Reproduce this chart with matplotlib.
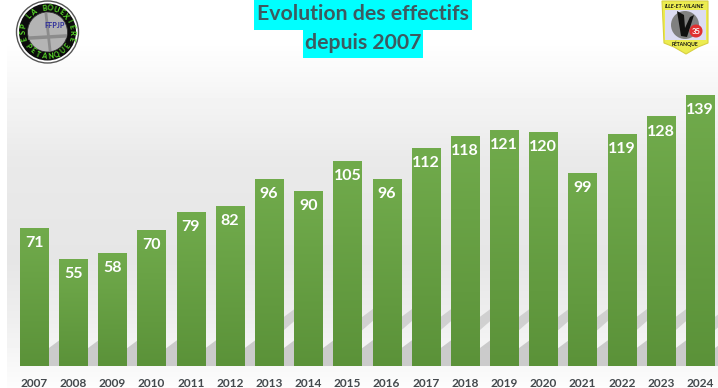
import matplotlib
matplotlib.use("Agg")
import matplotlib.pyplot as plt
from matplotlib.colors import LinearSegmentedColormap
from matplotlib.patches import Circle, Polygon, Rectangle, Wedge
import numpy as np

years = [2007, 2008, 2009, 2010, 2011, 2012, 2013, 2014, 2015,
         2016, 2017, 2018, 2019, 2020, 2021, 2022, 2023, 2024]
effectifs = [71, 55, 58, 70, 79, 82, 96, 90, 105,
             96, 112, 118, 121, 120, 99, 119, 128, 139]

W, H = 718, 388
plt.rcParams['font.family'] = ['Lato', 'DejaVu Sans']

fig = plt.figure(figsize=(W / 100, H / 100), dpi=100)

# page background, logos and title live in pixel coordinates
bg = fig.add_axes([0, 0, 1, 1])
bg.axis("off")
stops_y = [0, 40, 100, 160, 260, 320, 388]
stops_v = [1.0, 1.0, 0.955, 0.915, 0.90, 0.935, 0.99]
grad = np.interp(np.arange(H), stops_y, stops_v).reshape(-1, 1)
bg.imshow(grad, cmap="gray", vmin=0, vmax=1, extent=[7, W, H, 0], aspect="auto")
bg.set_xlim(0, W)
bg.set_ylim(H, 0)

# chart axes: 39.18 px per bar, 1.95 px per member, baseline at y=366
ax = fig.add_axes([0, 0, 1, 1])
ax.patch.set_alpha(0)
ax.axis("off")
x_step, y_step = 39.18, 1.95
xlim = (-34 / x_step, (W - 34) / x_step)
ylim = (-(H - 366) / y_step, 366 / y_step)
xs = np.arange(len(years))

# slanted shadows seen in the gaps between bars
for i, v in zip(xs, effectifs):
    ax.add_patch(Polygon([(i + 0.3, 0), (i + 0.7, 0), (i + 0.7, 14), (i + 0.3, 8)],
                         closed=True, fc="#bdbdbd", ec="none", alpha=0.75, zorder=1))
    if v > 90:
        ax.add_patch(Polygon([(i + 0.3, 17), (i + 0.7, 24), (i + 0.7, 30), (i + 0.3, 24)],
                             closed=True, fc="#c4c4c4", ec="none", alpha=0.7, zorder=1))

bar_grad = np.linspace(0, 1, 128).reshape(-1, 1)
cmap = LinearSegmentedColormap.from_list("vert", ["#71ab4c", "#5b9239"])
bars = ax.bar(xs, effectifs, width=0.72, color="#669f42", zorder=2)
for rect in bars:
    x0, w, v = rect.get_x(), rect.get_width(), rect.get_height()
    im = ax.imshow(bar_grad, cmap=cmap, extent=[x0, x0 + w, 0, v],
                   aspect="auto", zorder=3)
    im.set_clip_path(rect)

for i, v in zip(xs, effectifs):
    ax.text(i, v - 4.2, str(v), ha="center", va="top", color="white",
            fontsize=11.5, fontweight="bold", zorder=4)
    ax.text(i, -8.8, str(years[i]), ha="center", va="center",
            color="#44494d", fontsize=8.6, fontweight="bold", zorder=4)
ax.set_xlim(*xlim)
ax.set_ylim(*ylim)

# title
title_color = "#3d5a60"
bg.add_patch(Rectangle((254, 0), 218, 30, fc="#00ffff", ec="none", zorder=5))
bg.add_patch(Rectangle((303, 30), 120, 28, fc="#00ffff", ec="none", zorder=5))
bg.text(363, 14, "Evolution des effectifs", ha="center", va="center",
        color=title_color, fontsize=15.3, fontweight="bold", zorder=6)
bg.text(363, 43, "depuis 2007", ha="center", va="center",
        color=title_color, fontsize=15.3, fontweight="bold", zorder=6)

# left logo
cx, cy = 47.5, 32
bg.add_patch(Circle((cx, cy), 31, fc="white", ec="#555555", lw=1.0, zorder=5))
bg.add_patch(Circle((cx, cy), 28.5, fc="#0c0c0c", ec="none", zorder=5))
bg.add_patch(Circle((cx, cy), 20, fc="#b4b4b4", ec="#303030", lw=0.6, zorder=5))
bg.plot([30, 65], [38, 36], color="#8c8c8c", lw=2.5, zorder=5)
bg.plot([46, 50], [14, 50], color="#8c8c8c", lw=2, zorder=5)
bg.text(55, 26, "FFPJP", color="#2a2a9a", fontsize=5.2, fontweight="bold",
        ha="center", va="center", zorder=6)
top = "ESP LA BOUEXIERE"
for ch, ang in zip(top, np.linspace(165, 375, len(top))):
    a = np.radians(ang)
    bg.text(cx + 24.3 * np.cos(a), cy + 24.3 * np.sin(a), ch, color="#5be02a",
            fontsize=5.4, fontweight="bold", ha="center", va="center",
            rotation=-(ang + 90), rotation_mode="anchor", zorder=6)
low = "PETANQUE"
for ch, ang in zip(low, np.linspace(145, 35, len(low))):
    a = np.radians(ang)
    bg.text(cx + 24.3 * np.cos(a), cy + 24.3 * np.sin(a), ch, color="#5be02a",
            fontsize=5.0, fontweight="bold", ha="center", va="center",
            rotation=90 - ang, rotation_mode="anchor", zorder=6)

# right logo
bg.add_patch(Polygon([(662, 1), (708, 1), (708, 43), (698, 47), (686, 54),
                      (674, 47), (664, 43)], closed=True, fc="#ecec50",
                     ec="#d8d040", lw=0.8, zorder=5))
bg.add_patch(Polygon([(665, 10), (706, 10), (706, 40), (665, 40)], closed=True,
                     fc="#dcdcf2", ec="none", zorder=5))
bg.add_patch(Circle((685, 25), 14, fc="#808080", ec="none", zorder=5))
bg.add_patch(Polygon([(677, 11), (684, 15), (685, 28), (690, 17), (694, 15),
                      (687, 37), (681, 36)], closed=True, fc="#101010",
                     ec="none", zorder=5))
bg.add_patch(Wedge((696, 31), 6.5, 0, 360, fc="#e03030", ec="none", zorder=6))
bg.text(696, 31, "35", color="white", fontsize=5.5, fontweight="bold",
        ha="center", va="center", zorder=7)
bg.text(685, 6, "ILLE-ET-VILAINE", color="#111111", fontsize=4.0, fontweight="bold",
        ha="center", va="center", style="italic", zorder=6)
bg.text(685, 44, "PÉTANQUE", color="#111111", fontsize=3.6, fontweight="bold",
        ha="center", va="center", zorder=6)

fig.savefig("out.png", dpi=100)
